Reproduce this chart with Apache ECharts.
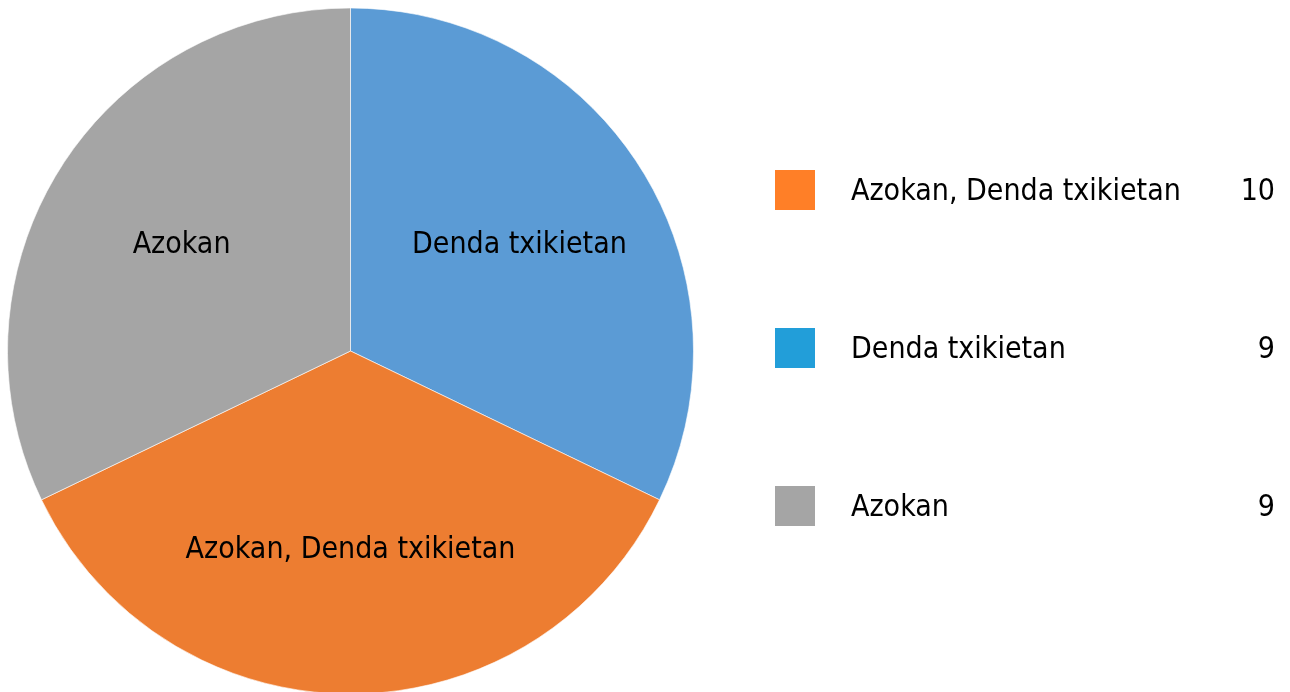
<!DOCTYPE html>
<html>
<head>
<meta charset="utf-8">
<script src="https://cdn.jsdelivr.net/npm/echarts@6/dist/echarts.min.js"></script>
<style>
  html, body { margin: 0; padding: 0; background: #fff; }
  #chart { width: 1290px; height: 692px; }
</style>
</head>
<body>
<div id="chart"></div>
<script>
  // data
  var categories = ['Denda txikietan', 'Azokan, Denda txikietan', 'Azokan'];
  var values = [9, 10, 9];
  var legendOrder = ['Azokan, Denda txikietan', 'Denda txikietan', 'Azokan'];

  // colours (slices and legend swatches differ slightly)
  var sliceColors = ['#5B9BD5', '#ED7D31', '#A5A5A5'];
  var legendColors = { 'Azokan, Denda txikietan': '#FF7F27', 'Denda txikietan': '#229ED9', 'Azokan': '#A5A5A5' };

  var FONT = '"Liberation Sans Narrow", "DejaVu Sans Condensed", "Arial Narrow", sans-serif';

  var chart = echarts.init(document.getElementById('chart'));

  var pieData = categories.map(function (c, i) {
    return { name: c, value: values[i], itemStyle: { color: sliceColors[i] } };
  });
  var valueOf = {};
  categories.forEach(function (c, i) { valueOf[c] = values[i]; });

  chart.setOption({
    animation: false,
    legend: {
      orient: 'vertical',
      left: 775,
      top: 170,
      padding: 0,
      itemWidth: 40,
      itemHeight: 40,
      itemGap: 118,
      icon: 'rect',
      selectedMode: false,
      data: legendOrder.map(function (n) {
        return { name: n, itemStyle: { color: legendColors[n], borderWidth: 0 } };
      }),
      formatter: function (name) {
        return '{n|' + name + '}{v|' + valueOf[name] + '}';
      },
      textStyle: {
        rich: {
          n: { fontFamily: FONT, fontSize: 30, lineHeight: 40, color: '#000', width: 390, padding: [4, 0, 0, 31] },
          v: { fontFamily: FONT, fontSize: 30, lineHeight: 40, color: '#000', width: 34, align: 'right', padding: [4, 0, 0, 0] }
        }
      }
    },
    series: [
      {
        type: 'pie',
        center: [350.5, 351],
        radius: [0, 343],
        startAngle: 90,
        clockwise: true,
        silent: true,
        label: { show: false },
        labelLine: { show: false },
        itemStyle: { borderColor: '#fff', borderWidth: 0.6 },
        data: pieData
      },
      {
        // transparent ring only used to place labels further out
        type: 'pie',
        center: [350.5, 351],
        radius: [50, 343],
        startAngle: 90,
        clockwise: true,
        silent: true,
        itemStyle: { color: 'rgba(0,0,0,0)' },
        label: {
          show: true,
          position: 'inside',
          fontFamily: FONT,
          fontSize: 30,
          color: '#000',
          padding: [6, 0, 0, 0]
        },
        labelLine: { show: false },
        data: categories.map(function (c, i) { return { name: c, value: values[i] }; })
      }
    ]
  });
</script>
</body>
</html>
